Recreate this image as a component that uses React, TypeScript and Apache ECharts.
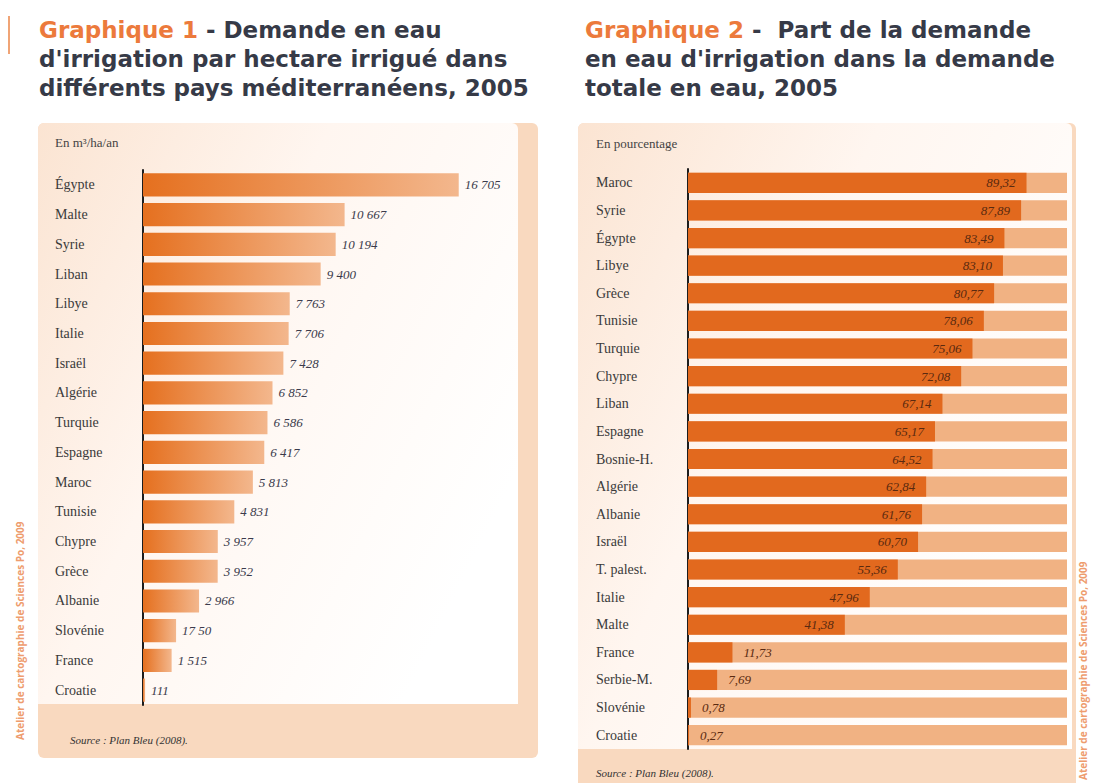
import React, { useEffect, useRef } from "react";
import * as echarts from "echarts";

const cats1 = ["Égypte", "Malte", "Syrie", "Liban", "Libye", "Italie", "Israël", "Algérie", "Turquie", "Espagne", "Maroc", "Tunisie", "Chypre", "Grèce", "Albanie", "Slovénie", "France", "Croatie"];
const vals1 = [16705, 10667, 10194, 9400, 7763, 7706, 7428, 6852, 6586, 6417, 5813, 4831, 3957, 3952, 2966, 1750, 1515, 111];
const labels1 = ["16 705", "10 667", "10 194", "9 400", "7 763", "7 706", "7 428", "6 852", "6 586", "6 417", "5 813", "4 831", "3 957", "3 952", "2 966", "17 50", "1 515", "111"];

const cats2 = ["Maroc", "Syrie", "Égypte", "Libye", "Grèce", "Tunisie", "Turquie", "Chypre", "Liban", "Espagne", "Bosnie-H.", "Algérie", "Albanie", "Israël", "T. palest.", "Italie", "Malte", "France", "Serbie-M.", "Slovénie", "Croatie"];
const vals2 = [89.32, 87.89, 83.49, 83.1, 80.77, 78.06, 75.06, 72.08, 67.14, 65.17, 64.52, 62.84, 61.76, 60.7, 55.36, 47.96, 41.38, 11.73, 7.69, 0.78, 0.27];

const title1 = ["Graphique 1", " - Demande en eau", "d'irrigation par hectare irrigué dans", "différents pays méditerranéens, 2005"];
const title2 = ["Graphique 2", " -  Part de la demande", "en eau d'irrigation dans la demande", "totale en eau, 2005"];

const SERIF = "'Liberation Serif', 'DejaVu Serif', serif";
const SANS = "'Open Sans', 'DejaVu Sans', sans-serif";
const TSANS = "'DejaVu Sans', sans-serif";

export default function App() {
  const ref = useRef<HTMLDivElement>(null);
  useEffect(() => {
    if (!ref.current) return;
    const chart = echarts.init(ref.current, undefined, { renderer: "svg" });
    const FS = 23;
    const mkTitle = (t: string[], x: number): any[] => [
      {
        type: "text", x, y: 30, z: 10,
        style: {
          text: `{o|${t[0]}}{d|${t[1]}}`,
          rich: {
            o: { fill: "#ec7a3c", fontFamily: TSANS, fontSize: FS, fontWeight: 700 },
            d: { fill: "#363a47", fontFamily: TSANS, fontSize: FS, fontWeight: 700 },
          },
          verticalAlign: "middle",
        },
      },
      { type: "text", x, y: 59, z: 10, style: { text: t[2], fill: "#363a47", font: `bold ${FS}px ${TSANS}`, verticalAlign: "middle" } },
      { type: "text", x, y: 88, z: 10, style: { text: t[3], fill: "#363a47", font: `bold ${FS}px ${TSANS}`, verticalAlign: "middle" } },
    ];
    const sideText = (x: number, y: number) => ({
      type: "text",
      x,
      y,
      rotation: Math.PI / 2,
      z: 10,
      style: {
        text: "Atelier de cartographie de Sciences Po, 2009",
        fill: "#ee9c6e",
        font: `bold 10px ${SANS}`,
        textAlign: "left",
        verticalAlign: "middle",
      },
    });
    const innerFill = () =>
      new echarts.graphic.LinearGradient(0, 0, 1, 0.6, [
        { offset: 0, color: "#fbe4d2" },
        { offset: 0.45, color: "#fff6f0" },
        { offset: 1, color: "#ffffff" },
      ]);
    const option: any = {
      animation: false,
      backgroundColor: "#ffffff",
      graphic: [
        { type: "rect", z: -10, shape: { x: 8, y: 16, width: 2, height: 38 }, style: { fill: "#f0a476" } },
        ...mkTitle(title1, 39),
        ...mkTitle(title2, 585),
        { type: "rect", z: -10, shape: { x: 38, y: 123, width: 500, height: 635, r: 6 }, style: { fill: "#f9d9bf" } },
        { type: "rect", z: -9, shape: { x: 38, y: 123, width: 480, height: 581, r: [6, 6, 0, 0] }, style: { fill: innerFill() } },
        { type: "rect", z: -10, shape: { x: 578, y: 123, width: 498, height: 680, r: 6 }, style: { fill: "#f9d9bf" } },
        { type: "rect", z: -9, shape: { x: 578, y: 123, width: 494, height: 626, r: [6, 6, 0, 0] }, style: { fill: innerFill() } },
        { type: "text", x: 55, y: 142, style: { text: "En m³/ha/an", font: `13px ${SERIF}`, fill: "#444", verticalAlign: "middle" } },
        { type: "text", x: 596, y: 143, style: { text: "En pourcentage", font: `13px ${SERIF}`, fill: "#444", verticalAlign: "middle" } },
        { type: "text", x: 70, y: 740, style: { text: "Source : Plan Bleu (2008).", font: `italic 11px ${SERIF}`, fill: "#333", verticalAlign: "middle" } },
        { type: "text", x: 596, y: 773, style: { text: "Source : Plan Bleu (2008).", font: `italic 11px ${SERIF}`, fill: "#333", verticalAlign: "middle" } },
        sideText(20, 740),
        sideText(1083, 780),
      ],
      grid: [
        { left: 143, top: 170, width: 378, height: 535 },
        { left: 688, top: 169, width: 379, height: 580 },
      ],
      xAxis: [
        { gridIndex: 0, type: "value", min: 0, max: 20000, show: false },
        { gridIndex: 1, type: "value", min: 0, max: 100, show: false },
      ],
      yAxis: [
        {
          gridIndex: 0, type: "category", data: cats1, inverse: true,
          axisLine: { show: true, lineStyle: { color: "#1d1d1d", width: 2 } },
          axisTick: { show: false },
          axisLabel: { align: "left", margin: 88, fontFamily: SERIF, fontSize: 14, color: "#3a3a3a" },
        },
        {
          gridIndex: 1, type: "category", data: cats2, inverse: true,
          axisLine: { show: true, lineStyle: { color: "#1d1d1d", width: 2 } },
          axisTick: { show: false },
          axisLabel: { align: "left", margin: 92, fontFamily: SERIF, fontSize: 14, color: "#3a3a3a" },
        },
      ],
      series: [
        {
          type: "bar", xAxisIndex: 0, yAxisIndex: 0, data: vals1, barCategoryGap: "22%",
          itemStyle: {
            color: new echarts.graphic.LinearGradient(0, 0, 1, 0, [
              { offset: 0, color: "#e5701f" },
              { offset: 1, color: "#f3b78d" },
            ]),
          },
          label: {
            show: true, position: "right", distance: 6,
            formatter: (p: any) => labels1[p.dataIndex],
            fontFamily: SERIF, fontStyle: "italic", fontSize: 13, color: "#3b3b4c",
          },
        },
        {
          type: "bar", xAxisIndex: 1, yAxisIndex: 1, barCategoryGap: "27%",
          data: vals2.map((v) => ({ value: v, label: { position: v < 20 ? "right" : "insideRight" } })),
          itemStyle: { color: "#e2691e" },
          showBackground: true,
          backgroundStyle: { color: "#f1b283" },
          label: {
            show: true, distance: 11,
            formatter: (p: any) => vals2[p.dataIndex].toFixed(2).replace(".", ","),
            fontFamily: SERIF, fontStyle: "italic", fontSize: 13, color: "#5a2a10",
          },
        },
      ],
    };
    chart.setOption(option);
    return () => chart.dispose();
  }, []);
  return <div ref={ref} style={{ position: "fixed", left: 0, top: 0, width: 1094, height: 783 }} />;
}
